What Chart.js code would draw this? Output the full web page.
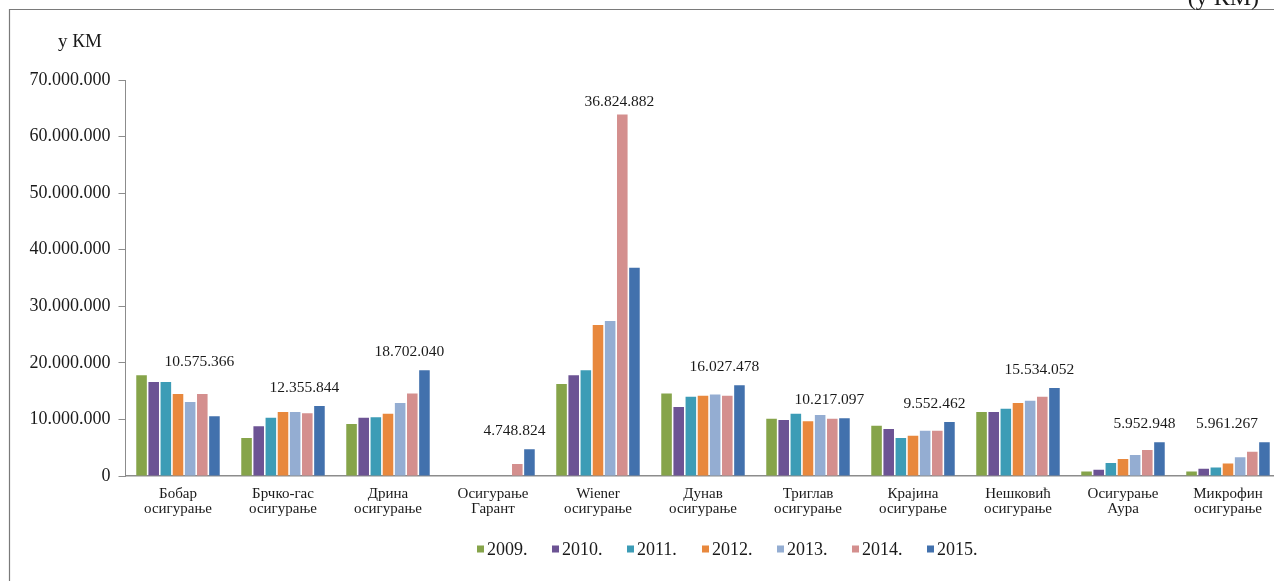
<!DOCTYPE html>
<html>
<head>
<meta charset="utf-8">
<script src="https://cdn.jsdelivr.net/npm/chart.js@4.4.1/dist/chart.umd.min.js"></script>
<style>
    html, body { margin: 0; padding: 0; background: #fff; overflow: hidden; }
    #wrap { position: relative; width: 1282px; height: 581px; }
</style>
</head>
<body>
<div id="wrap"><canvas id="chart" width="1282" height="581"></canvas></div>
<script>
// Категорије (друштва) и године
const categories = [
    ['Бобар', 'осигурање'], ['Брчко-гас', 'осигурање'], ['Дрина', 'осигурање'],
    ['Осигурање', 'Гарант'], ['Wiener', 'осигурање'], ['Дунав', 'осигурање'],
    ['Триглав', 'осигурање'], ['Крајина', 'осигурање'], ['Нешковић', 'осигурање'],
    ['Осигурање', 'Аура'], ['Микрофин', 'осигурање']
];
const years = ['2009.', '2010.', '2011.', '2012.', '2013.', '2014.', '2015.'];
const colors = ['#86a44a', '#6c5394', '#3c9cb6', '#e8883d', '#94add2', '#d48f8e', '#4271ad'];

// Вриједности (у КМ), очитане са графикона
const v2009 = [17800000, 6700000, 9200000, null, 16250000, 14600000, 10100000, 8900000, 11300000, 800000, 800000];
const v2010 = [16600000, 8800000, 10300000, null, 17800000, 12200000, 9900000, 8300000, 11300000, 1100000, 1300000];
const v2011 = [16600000, 10300000, 10400000, null, 18700000, 14000000, 11000000, 6700000, 11900000, 2300000, 1500000];
const v2012 = [14500000, 11300000, 11000000, null, 26700000, 14200000, 9700000, 7100000, 12900000, 3000000, 2200000];
const v2013 = [13100000, 11300000, 12900000, null, 27400000, 14400000, 10800000, 8000000, 13300000, 3700000, 3300000];
const v2014 = [14500000, 11100000, 14600000, 2100000, 63900000, 14200000, 10100000, 8000000, 14000000, 4600000, 4300000];
const v2015 = [10575366, 12355844, 18702040, 4748824, 36824882, 16027478, 10217097, 9552462, 15534052, 5952948, 5961267];
const series = [v2009, v2010, v2011, v2012, v2013, v2014, v2015];

const yTicks = [0, 10000000, 20000000, 30000000, 40000000, 50000000, 60000000, 70000000];

const SERIF = '"Liberation Serif", "DejaVu Serif", serif';
const TEXT = '#1a1a1a';
const AXIS = '#8c8c8c';

function fmt(v) {
    if (v === 0) return '0';
    return String(v).replace(/\B(?=(\d{3})+(?!\d))/g, '.');
}

// Оквир, натпис јединице и легенда
const decorPlugin = {
    id: 'decor',
    afterDraw(chart) {
        const ctx = chart.ctx;
        ctx.save();
        // оквир
        ctx.strokeStyle = '#7a7a7a';
        ctx.lineWidth = 1.2;
        ctx.beginPath();
        ctx.moveTo(9.5, 581);
        ctx.lineTo(9.5, 9.5);
        ctx.lineTo(1282, 9.5);
        ctx.stroke();

        ctx.fillStyle = TEXT;
        ctx.font = '24px ' + SERIF;
        ctx.textAlign = 'right';
        ctx.textBaseline = 'alphabetic';
        ctx.fillText('(у КМ)', 1259, 5);

        ctx.font = '19px ' + SERIF;
        ctx.textAlign = 'center';
        ctx.textBaseline = 'middle';
        ctx.fillText('у КМ', 80, 42);

        // легенда
        ctx.font = '18px ' + SERIF;
        ctx.textAlign = 'left';
        let x = 477;
        const y = 549;
        chart.data.datasets.forEach(ds => {
            ctx.fillStyle = ds.backgroundColor;
            ctx.fillRect(x, y - 3.5, 7, 7);
            ctx.fillStyle = TEXT;
            ctx.fillText(ds.label, x + 10, y + 1);
            x += 75;
        });
        ctx.restore();
    }
};

// Натпис вриједности за 2015. изнад сваке групе
const valueLabels = {
    id: 'valueLabels',
    afterDatasetsDraw(chart) {
        const ctx = chart.ctx;
        const last = chart.getDatasetMeta(series.length - 1);
        ctx.save();
        ctx.font = '15.5px ' + SERIF;
        ctx.fillStyle = TEXT;
        ctx.textAlign = 'center';
        ctx.textBaseline = 'middle';
        categories.forEach((c, i) => {
            const el = last.data[i];
            let top = Infinity;
            chart.data.datasets.forEach((d, k) => {
                if (d.data[i] != null) top = Math.min(top, chart.getDatasetMeta(k).data[i].y);
            });
            const txt = fmt(v2015[i]);
            const half = ctx.measureText(txt).width / 2;
            const y = Math.min(el.y - 18, top - 13);
            const x = Math.min(el.x - 15, 1258 - half);
            ctx.fillText(txt, x, y);
        });
        ctx.restore();
    }
};

const ctx = document.getElementById('chart').getContext('2d');
new Chart(ctx, {
    type: 'bar',
    data: {
        labels: categories,
        datasets: years.map((yr, k) => ({
            label: yr,
            data: series[k],
            backgroundColor: colors[k],
            borderWidth: 0,
            categoryPercentage: 0.81,
            barPercentage: 0.87
        }))
    },
    options: {
        responsive: false,
        animation: false,
        layout: { padding: { left: 0, top: 80, right: 1.5, bottom: 0 } },
        plugins: {
            legend: { display: false },
            tooltip: { enabled: false }
        },
        scales: {
            x: {
                grid: { display: true, drawOnChartArea: false, drawTicks: false },
                border: { color: AXIS, width: 1.5 },
                ticks: {
                    color: TEXT,
                    font: { family: SERIF, size: 15, lineHeight: 1.0 },
                    padding: 11,
                    maxRotation: 0,
                    autoSkip: false
                },
                afterFit(s) { s.height = 105; }
            },
            y: {
                min: 0,
                max: 70000000,
                afterBuildTicks(s) { s.ticks = yTicks.map(v => ({ value: v })); },
                grid: { drawOnChartArea: false, tickLength: 7, color: AXIS },
                border: { color: AXIS, width: 1 },
                ticks: {
                    color: TEXT,
                    font: { family: SERIF, size: 18 },
                    padding: 8,
                    callback: v => fmt(v)
                },
                afterFit(s) { s.width = 125.5; }
            }
        }
    },
    plugins: [valueLabels, decorPlugin]
});
</script>
</body>
</html>
